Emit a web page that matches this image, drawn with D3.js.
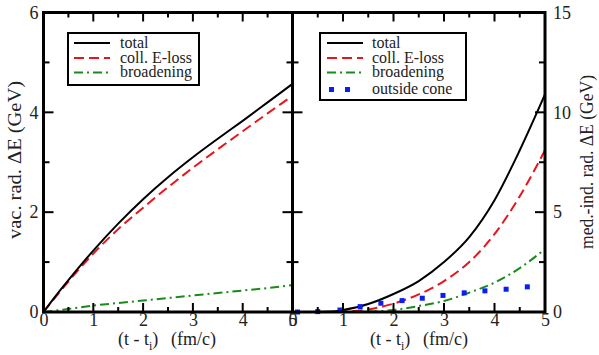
<!DOCTYPE html>
<html>
<head>
<meta charset="utf-8">
<script src="https://cdn.jsdelivr.net/npm/d3@7"></script>
<style>
  body { margin: 0; background: #fff; }
  svg text { font-family: "Liberation Serif", "Times New Roman", Times, "DejaVu Serif", "Noto Serif", serif; fill: #222; }
</style>
</head>
<body>
<script>
// left panel: vacuum radiation
const tVac = [0, 0.25, 0.5, 1, 1.5, 2, 2.5, 3, 3.5, 4, 4.5, 5];
const vacTotal = [0, 0.33, 0.64, 1.23, 1.77, 2.26, 2.7, 3.1, 3.47, 3.83, 4.2, 4.57];
const vacColl = [0, 0.31, 0.61, 1.17, 1.66, 2.09, 2.5, 2.89, 3.26, 3.62, 3.98, 4.33];
const vacBroad = [0, 0.03, 0.06, 0.13, 0.18, 0.23, 0.28, 0.33, 0.38, 0.43, 0.48, 0.54];

// right panel: medium-induced radiation
const tMed = [0, 0.5, 0.8, 1, 1.5, 2, 2.5, 3, 3.5, 4, 4.5, 5];
const medTotal = [0, 0, 0.02, 0.1, 0.4, 0.9, 1.55, 2.5, 3.75, 5.6, 8.1, 10.9];
const medColl = [0, 0, 0, 0.02, 0.13, 0.42, 0.88, 1.55, 2.5, 3.9, 5.8, 8.1];
const medBroad = [0, 0, 0, 0, 0.02, 0.1, 0.3, 0.55, 0.97, 1.47, 2.2, 3.15];
const tCone = [0.1, 0.5, 0.94, 1.34, 1.75, 2.17, 2.57, 2.98, 3.4, 3.81, 4.23, 4.65];
const medCone = [0, 0.02, 0.1, 0.27, 0.44, 0.57, 0.69, 0.83, 0.96, 1.06, 1.14, 1.26];

const xTicks = [0, 1, 2, 3, 4, 5];
const yTicksL = [0, 2, 4, 6];
const yTicksR = [0, 5, 10, 15];
const namesL = ["total", "coll. E-loss", "broadening"];
const namesR = ["total", "coll. E-loss", "broadening", "outside cone"];

const W = 599, H = 355;
const svg = d3.select("body").append("svg").attr("width", W).attr("height", H);

const xL = d3.scaleLinear().domain([0, 5]).range([43.5, 292.5]);
const xR = d3.scaleLinear().domain([0, 5]).range([292.5, 545]);
const yL = d3.scaleLinear().domain([0, 6]).range([312, 12.5]);
const yR = d3.scaleLinear().domain([0, 15]).range([312, 12.5]);

const styles = {
  total: {stroke: "#000", dash: null},
  coll: {stroke: "#e8141c", dash: "10,5"},
  broad: {stroke: "#1a8a1a", dash: "9,4,2,4"}
};

function inwardTicks(g, x, y, xMinor, yMinor) {
  const x0 = x.range()[0], x1 = x.range()[1], y0 = y.range()[0], y1 = y.range()[1];
  const xs = d3.range(0, 5.001, xMinor);
  const ys = d3.range(0, y.domain()[1] + 0.001, yMinor);
  const tk = g.append("g").attr("stroke", "#000").attr("stroke-width", 2);
  xs.forEach((v, i) => {
    const len = i % 2 === 0 ? 9 : 5;
    tk.append("line").attr("x1", x(v)).attr("x2", x(v)).attr("y1", y0).attr("y2", y0 - len);
    tk.append("line").attr("x1", x(v)).attr("x2", x(v)).attr("y1", y1).attr("y2", y1 + len);
  });
  ys.forEach((v, i) => {
    const len = i % 2 === 0 ? 10 : 6;
    tk.append("line").attr("y1", y(v)).attr("y2", y(v)).attr("x1", x0).attr("x2", x0 + len);
    tk.append("line").attr("y1", y(v)).attr("y2", y(v)).attr("x1", x1).attr("x2", x1 - len);
  });
}

function curve(g, x, y, ts, vs, st) {
  const line = d3.line().x((d, i) => x(ts[i])).y(d => y(d)).curve(d3.curveMonotoneX);
  g.append("path").datum(vs).attr("d", line)
    .attr("fill", "none").attr("stroke", st.stroke).attr("stroke-width", 2)
    .attr("stroke-dasharray", st.dash);
}

function xTitle(cx) {
  const t = svg.append("text").attr("x", cx - 51).attr("y", 345)
    .attr("font-size", 18);
  t.append("tspan").text("(t - t");
  t.append("tspan").attr("font-size", 12).attr("dy", 5).text("i");
  t.append("tspan").attr("dy", -5).text(")");
  t.append("tspan").attr("x", cx - 51 + 53).attr("dy", 0).text("(fm/c)");
}

// ----- left panel
const gL = svg.append("g");
curve(gL, xL, yL, tVac, vacBroad, styles.broad);
curve(gL, xL, yL, tVac, vacColl, styles.coll);
curve(gL, xL, yL, tVac, vacTotal, styles.total);

// ----- right panel
const gR = svg.append("g");
curve(gR, xR, yR, tMed, medBroad, styles.broad);
curve(gR, xR, yR, tMed, medColl, styles.coll);
curve(gR, xR, yR, tMed, medTotal, styles.total);
gR.selectAll("rect.cone").data(medCone).enter().append("rect")
  .attr("class", "cone")
  .attr("x", (d, i) => xR(tCone[i]) - 2.5).attr("y", d => yR(d) - 2.5)
  .attr("width", 5).attr("height", 5).attr("fill", "#0a1ef0");

inwardTicks(svg, xL, yL, 0.5, 1);
inwardTicks(svg, xR, yR, 0.5, 2.5);

// frames
[[xL, yL], [xR, yR]].forEach(([x, y]) => {
  svg.append("rect").attr("x", x.range()[0]).attr("y", y.range()[1])
    .attr("width", x.range()[1] - x.range()[0]).attr("height", y.range()[0] - y.range()[1])
    .attr("fill", "none").attr("stroke", "#000").attr("stroke-width", 3);
});

// tick labels
function labels(axis, transform) {
  const g = svg.append("g").attr("transform", transform).call(axis);
  g.attr("font-family", null);
  g.select(".domain").remove();
  g.selectAll("line").remove();
  g.selectAll("text").attr("font-size", 18).attr("fill", "#222");
}
const fmt = d3.format("d");
labels(d3.axisBottom(xL).tickValues(xTicks).tickFormat(fmt).tickSize(0).tickPadding(1), "translate(0,312)");
labels(d3.axisBottom(xR).tickValues(xTicks).tickFormat(fmt).tickSize(0).tickPadding(1), "translate(0,312)");
labels(d3.axisLeft(yL).tickValues(yTicksL).tickFormat(fmt).tickSize(0).tickPadding(5), "translate(43.5,0)");
labels(d3.axisRight(yR).tickValues(yTicksR).tickFormat(fmt).tickSize(0).tickPadding(8), "translate(545,0)");

// axis titles
xTitle(169);
xTitle(421);
svg.append("text").attr("transform", "translate(21,160) rotate(-90)")
  .attr("text-anchor", "middle").attr("font-size", 18)
  .attr("textLength", 158).attr("lengthAdjust", "spacingAndGlyphs")
  .text("vac. rad. \u0394E (GeV)");
svg.append("text").attr("transform", "translate(593,162) rotate(-90)")
  .attr("text-anchor", "middle").attr("font-size", 18)
  .attr("textLength", 174).attr("lengthAdjust", "spacingAndGlyphs")
  .text("med.-ind. rad. \u0394E (GeV)");

// legends
function legend(bx, by, bw, bh, names, rowY, sx0, sx1, tx) {
  const g = svg.append("g");
  g.append("rect").attr("x", bx).attr("y", by).attr("width", bw).attr("height", bh)
    .attr("fill", "#fff").attr("stroke", "#000").attr("stroke-width", 2);
  const keys = ["total", "coll", "broad"];
  names.forEach((n, i) => {
    const y = rowY[i];
    if (i < 3) {
      const st = styles[keys[i]];
      g.append("line").attr("x1", sx0).attr("x2", sx1).attr("y1", y).attr("y2", y)
        .attr("stroke", st.stroke).attr("stroke-width", 2).attr("stroke-dasharray", st.dash);
    } else {
      [sx0 + 2, sx1 - 18].forEach(x => g.append("rect").attr("x", x).attr("y", y - 2.5)
        .attr("width", 5).attr("height", 5).attr("fill", "#0a1ef0"));
    }
    g.append("text").attr("x", tx).attr("y", y).attr("dy", "0.3em")
      .attr("font-size", 16).text(n);
  });
}
legend(68, 33, 131, 52, namesL, [43, 58, 72.5], 74, 110, 120);
legend(320, 33, 146, 67, namesR, [43, 58, 72.5, 89.5], 327, 363, 372);
</script>
</body>
</html>
